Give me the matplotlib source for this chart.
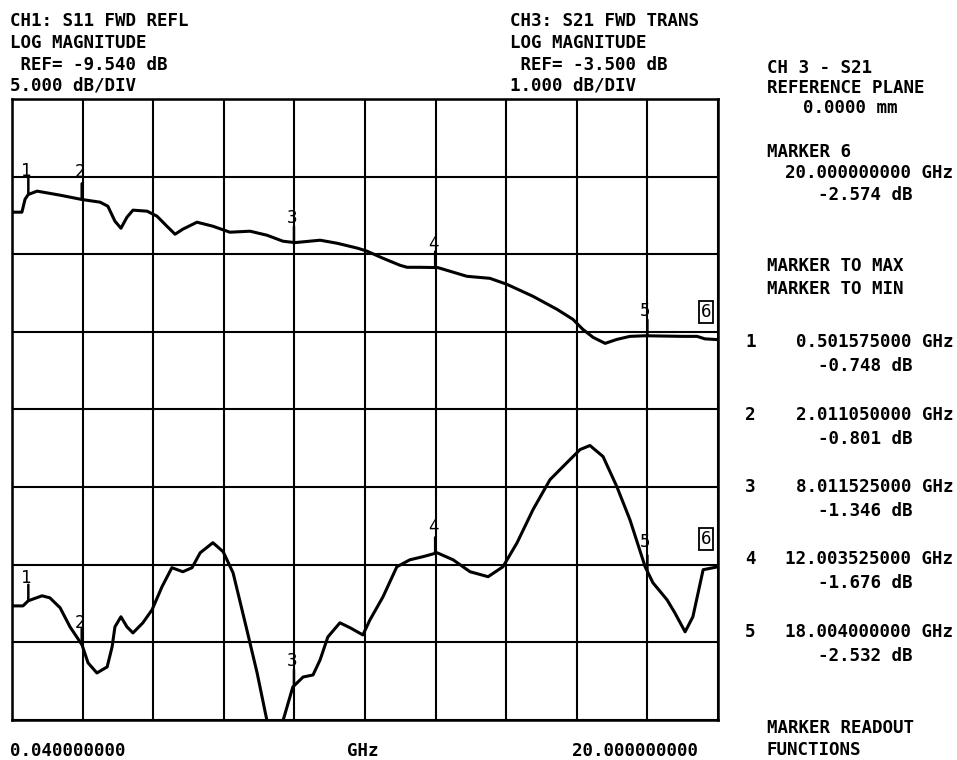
import numpy as np
import matplotlib
matplotlib.use("Agg")
import matplotlib.pyplot as plt

# ---------------- data ----------------
f_start, f_stop = 0.04, 20.0          # GHz
s21_ref, s21_div = -3.5, 1.0          # dB, dB/div (upper trace, CH3)
s11_ref, s11_div = -9.54, 5.0         # dB, dB/div (lower trace, CH1)

s21_freq = [0.04, 0.32, 0.41, 0.50, 0.75, 1.40, 2.02, 2.53, 2.75, 2.95, 3.12, 3.29,
            3.46, 3.86, 4.14, 4.42, 4.65, 4.87, 5.27, 5.72, 6.20, 6.77, 7.25, 7.70,
            8.04, 8.75, 9.23, 9.82, 10.08, 10.53, 11.01, 11.21, 11.57, 12.08, 12.90,
            13.55, 14.03, 14.77, 15.45, 15.90, 16.18, 16.47, 16.81, 17.14, 17.51,
            17.94, 19.01, 19.41, 19.63, 20.0]
s21_db = [-0.958, -0.958, -0.79, -0.73, -0.687, -0.739, -0.795, -0.829, -0.881, -1.074,
          -1.165, -1.023, -0.932, -0.945, -1.010, -1.139, -1.242, -1.177, -1.087, -1.139,
          -1.216, -1.203, -1.255, -1.332, -1.350, -1.319, -1.358, -1.423, -1.461, -1.552,
          -1.642, -1.668, -1.668, -1.672, -1.784, -1.810, -1.887, -2.042, -2.210, -2.339,
          -2.468, -2.571, -2.648, -2.597, -2.558, -2.550, -2.558, -2.558, -2.590, -2.600]

s11_freq = [0.04, 0.35, 0.50, 0.89, 1.11, 1.40, 1.68, 2.02, 2.19, 2.44, 2.73, 2.87, 2.95,
            3.12, 3.29, 3.46, 3.74, 4.00, 4.28, 4.56, 4.87, 5.13, 5.36, 5.72, 6.01, 6.29,
            6.68, 6.97, 7.25, 7.47, 7.70, 7.98, 8.27, 8.55, 8.75, 8.97, 9.31, 9.60, 9.96,
            10.16, 10.53, 10.92, 11.29, 11.66, 12.06, 12.51, 12.99, 13.50, 13.92, 14.32,
            14.77, 15.25, 15.73, 16.10, 16.38, 16.75, 17.14, 17.51, 17.94, 18.16, 18.56,
            18.78, 19.07, 19.29, 19.58, 20.0]
s11_db = [-22.19, -22.19, -21.86, -21.54, -21.67, -22.31, -23.54, -24.70, -25.86, -26.51,
          -26.12, -24.83, -23.54, -22.89, -23.54, -23.93, -23.28, -22.44, -20.96, -19.73,
          -19.99, -19.73, -18.77, -18.12, -18.70, -20.06, -23.73, -26.51, -29.60, -31.00,
          -29.60, -27.41, -26.77, -26.64, -25.67, -24.19, -23.28, -23.60, -24.06, -23.09,
          -21.60, -19.67, -19.22, -19.02, -18.77, -19.22, -19.99, -20.31, -19.67, -18.12,
          -15.99, -14.06, -12.96, -12.12, -11.86, -12.57, -14.51, -16.64, -19.67, -20.70,
          -21.80, -22.64, -23.86, -22.89, -19.86, -19.67]

marker_ids = [1, 2, 3, 4, 5]
marker_freq = [0.501575, 2.011050, 8.011525, 12.003525, 18.004]
marker_db = [-0.748, -0.801, -1.346, -1.676, -2.532]
marker6_freq = 20.0
marker6_db = -2.574

# ---------------- figure ----------------
W, H = 957, 760
fig = plt.figure(figsize=(W / 100, H / 100), dpi=100)
fig.patch.set_facecolor("white")

FONT = dict(family="DejaVu Sans Mono", weight="bold", size=12.6, color="black")

def px(x, y):
    return x / W, 1 - y / H

def label(x, y, s, ha="left", **kw):
    d = dict(FONT)
    d.update(kw)
    fig.text(*px(x, y), s, ha=ha, va="center", **d)

L, R, T, B = 12, 718, 99, 720
ax = fig.add_axes([L / W, 1 - B / H, (R - L) / W, (B - T) / H])
ax.set_xlim(f_start, f_stop)
ax.set_ylim(s21_ref - 4 * s21_div, s21_ref + 4 * s21_div)
ax.set_xticks(np.linspace(f_start, f_stop, 11))
ax.set_yticks(np.linspace(s21_ref - 4 * s21_div, s21_ref + 4 * s21_div, 9))
ax.grid(True, color="black", lw=1.5)
ax.tick_params(length=0, labelbottom=False, labelleft=False)
for sp in ax.spines.values():
    sp.set_linewidth(1.8)

ax2 = ax.twinx()
ax2.set_ylim(s11_ref - 4 * s11_div, s11_ref + 4 * s11_div)
ax2.tick_params(length=0, labelright=False)
ax2.set_yticks([])

ax.plot(s21_freq, s21_db, color="black", lw=2.2, solid_joinstyle="round",
        solid_capstyle="butt", zorder=3)
ax2.plot(s11_freq, s11_db, color="black", lw=2.2, solid_joinstyle="round",
         solid_capstyle="butt", zorder=3)

MK = dict(family="DejaVu Sans Mono", size=12.6, color="black")

def markers(a, fr, db, dy_lab):
    for i, mf in enumerate(marker_freq):
        v = np.interp(mf, fr, db)
        a.annotate("", xy=(mf, v), xytext=(0, 16), xycoords="data",
                   textcoords="offset pixels",
                   arrowprops=dict(arrowstyle="-", lw=1.8, shrinkA=0, shrinkB=0,
                                   color="black"))
        a.annotate(str(marker_ids[i]), xy=(mf, v), xytext=(-2, dy_lab[i]),
                   textcoords="offset pixels", ha="center", va="center", **MK)
    v6 = np.interp(marker6_freq, fr, db)
    a.annotate("6", xy=(marker6_freq, v6), xytext=(-12, 28),
               textcoords="offset pixels", ha="center", va="center",
               bbox=dict(boxstyle="square,pad=0.12", fc="white", ec="black", lw=1.3),
               **MK)

markers(ax, s21_freq, s21_db, [23, 27, 24, 24, 25])
markers(ax2, s11_freq, s11_db, [23, 21, 25, 26, 29])

# ---------------- header text ----------------
label(10, 21, "CH1: S11 FWD REFL")
label(10, 43, "LOG MAGNITUDE")
label(10, 65, f" REF= {s11_ref:.3f} dB")
label(10, 86, f"{s11_div:.3f} dB/DIV")

label(510, 21, "CH3: S21 FWD TRANS")
label(510, 43, "LOG MAGNITUDE")
label(510, 65, f" REF= {s21_ref:.3f} dB")
label(510, 86, f"{s21_div:.3f} dB/DIV")

# ---------------- right panel ----------------
label(767, 68, "CH 3 - S21")
label(767, 88, "REFERENCE PLANE")
label(803, 108, "0.0000 mm")
label(767, 152, "MARKER 6")
label(953, 173, f"{marker6_freq:.9f} GHz", ha="right")
label(912, 195, f"{marker6_db:.3f} dB", ha="right")
label(767, 266, "MARKER TO MAX")
label(767, 289, "MARKER TO MIN")
for i, (mid, mf, md) in enumerate(zip(marker_ids, marker_freq, marker_db)):
    y0 = 342 + i * 72.5
    label(745, y0, str(mid))
    label(953, y0, f"{mf:.9f} GHz", ha="right")
    label(912, y0 + 24, f"{md:.3f} dB", ha="right")
label(767, 728, "MARKER READOUT")
label(767, 750, "FUNCTIONS")

# ---------------- frequency labels ----------------
label(10, 751, f"{f_start:.9f}")
label(347, 751, "GHz")
label(572, 751, f"{f_stop:.9f}")

fig.savefig("out.png", dpi=100, facecolor="white")
